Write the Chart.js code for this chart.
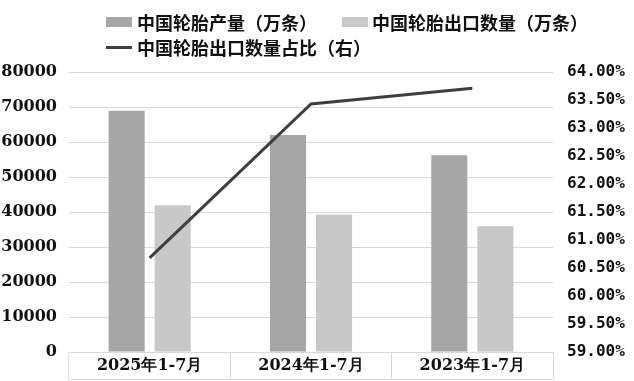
<!DOCTYPE html>
<html>
<head>
<meta charset="utf-8">
<script src="https://cdn.jsdelivr.net/npm/chart.js@4/dist/chart.umd.min.js"></script>
<style>
  html, body { margin: 0; padding: 0; background: #fff; }
  #wrap { position: relative; width: 634px; height: 381px; }
</style>
</head>
<body>
<div id="wrap"><canvas id="c"></canvas></div>
<script>
// 数据
const categories = ['2025年1-7月', '2024年1-7月', '2023年1-7月'];
const production = [68900, 62000, 56200];     // 中国轮胎产量（万条）
const exportQty = [41900, 39300, 35900];      // 中国轮胎出口数量（万条）
const exportShare = [60.68, 63.43, 63.71];    // 出口数量占比 %
const leftTicks = [0, 80000, 10000];          // min, max, step
const rightTicks = [59, 64, 0.5];

const labels = ['中国轮胎产量（万条）', '中国轮胎出口数量（万条）', '中国轮胎出口数量占比（右）'];

const darkGray = '#a6a6a6';
const lightGray = '#c8c8c8';
const lineColor = '#3f3f3f';
const gridColor = '#d9d9d9';
const serifFont = { family: '"DejaVu Serif", serif', size: 16, weight: 'bold' };
const monoFont = { family: '"DejaVu Sans Mono", monospace', size: 16, weight: 'bold' };

// 自绘图例 + 底部横线
const extras = {
  id: 'extras',
  afterDraw(chart) {
    const ctx = chart.ctx;
    const [lineDs, prodDs, expDs] = chart.data.datasets;
    ctx.save();
    ctx.font = 'bold 18px "Noto Sans CJK SC", sans-serif';
    ctx.textBaseline = 'middle';
    // row 1
    ctx.fillStyle = prodDs.backgroundColor;
    ctx.fillRect(106, 17, 26, 10);
    ctx.fillStyle = expDs.backgroundColor;
    ctx.fillRect(342, 17, 26, 10);
    ctx.fillStyle = '#111';
    ctx.fillText(prodDs.label, 137, 23);
    ctx.fillText(expDs.label, 372, 23);
    // row 2
    ctx.strokeStyle = lineDs.borderColor;
    ctx.lineWidth = 3;
    ctx.beginPath();
    ctx.moveTo(106, 47.5);
    ctx.lineTo(132, 47.5);
    ctx.stroke();
    ctx.fillText(lineDs.label, 137, 48);
    // x 轴标签框底线
    const x = chart.scales.x;
    ctx.strokeStyle = gridColor;
    ctx.lineWidth = 1;
    ctx.beginPath();
    ctx.moveTo(x.left, 379.5);
    ctx.lineTo(x.right, 379.5);
    ctx.stroke();
    ctx.restore();
  }
};

new Chart(document.getElementById('c'), {
  data: {
    labels: categories,
    datasets: [
      {
        type: 'line',
        label: labels[2],
        data: exportShare,
        yAxisID: 'y1',
        borderColor: lineColor,
        backgroundColor: lineColor,
        borderWidth: 3,
        pointRadius: 0,
        tension: 0,
        order: 0
      },
      {
        type: 'bar',
        label: labels[0],
        data: production,
        yAxisID: 'y',
        backgroundColor: darkGray,
        categoryPercentage: 0.571,
        barPercentage: 0.783,
        order: 1
      },
      {
        type: 'bar',
        label: labels[1],
        data: exportQty,
        yAxisID: 'y',
        backgroundColor: lightGray,
        categoryPercentage: 0.571,
        barPercentage: 0.783,
        order: 1
      }
    ]
  },
  options: {
    responsive: true,
    maintainAspectRatio: false,
    animation: false,
    layout: { padding: { top: 72, left: 0, right: 0, bottom: 0 } },
    plugins: {
      legend: { display: false },
      tooltip: { enabled: false }
    },
    scales: {
      x: {
        grid: {
          offset: true,
          drawOnChartArea: false,
          drawTicks: true,
          tickLength: 27,
          color: gridColor
        },
        border: { display: true, color: gridColor },
        ticks: { color: '#111', font: serifFont, padding: -22.6, maxRotation: 0 },
        afterFit: (s) => { s.height = 29; }
      },
      y: {
        position: 'left',
        min: leftTicks[0],
        max: leftTicks[1],
        grid: { color: gridColor, drawTicks: false },
        border: { display: false },
        ticks: {
          stepSize: leftTicks[2],
          color: '#111',
          font: serifFont,
          padding: 12,
          callback: (v) => String(v)
        },
        afterFit: (s) => { s.width = 69; }
      },
      y1: {
        position: 'right',
        min: rightTicks[0],
        max: rightTicks[1],
        grid: { display: false, drawTicks: false },
        border: { display: false },
        ticks: {
          stepSize: rightTicks[2],
          color: '#111',
          font: monoFont,
          padding: 14,
          callback: (v) => v.toFixed(2) + '%'
        },
        afterFit: (s) => { s.width = 81; }
      }
    }
  },
  plugins: [extras]
});
</script>
</body>
</html>
